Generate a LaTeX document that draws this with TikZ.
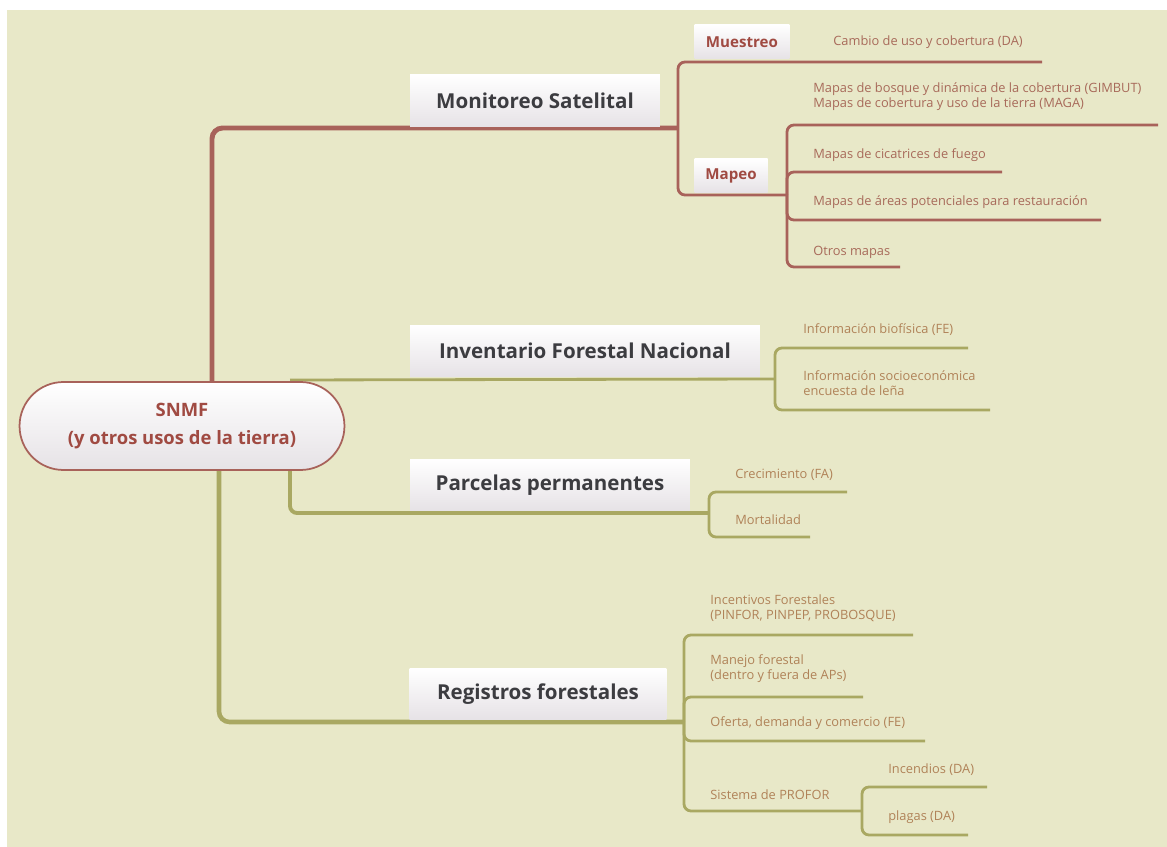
\documentclass[tikz,border=0pt]{standalone}
\usepackage{fontspec}
\setmainfont{Open Sans}
\usepackage{tikz}
\usetikzlibrary{positioning, calc}
\definecolor{paperbeige}{HTML}{E8E8C8}
\definecolor{branchred}{HTML}{A8625A}
\definecolor{branchgreen}{HTML}{A9A862}
\definecolor{leafred}{HTML}{A86A5A}
\definecolor{leafgreen}{HTML}{B08258}
\definecolor{topicgray}{HTML}{3C3C40}
\definecolor{rootred}{HTML}{A04A42}
\definecolor{boxshade}{HTML}{E6E2E6}
\pgfdeclarelayer{paper}
\pgfdeclarelayer{edges}
\pgfsetlayers{paper,edges,main}

\begin{document}
\begin{tikzpicture}[x=0.02cm, y=-0.02cm,
    topic/.style={rectangle, top color=white, bottom color=boxshade, minimum height=1.04cm, font=\fontsize{11.7}{14}\selectfont\bfseries, text=topicgray},
    subtopic/.style={rectangle, top color=white, bottom color=boxshade, minimum height=0.68cm, font=\fontsize{8.6}{10}\selectfont\bfseries, text=rootred},
    leaf/.style={anchor=west, align=left, inner sep=0pt, font=\fontsize{7.3}{8.6}\selectfont},
    redline/.style={draw=branchred, line width=1.6pt, rounded corners=4pt},
    greenline/.style={draw=branchgreen, line width=1.6pt, rounded corners=4pt},
    redtrunk/.style={redline, line width=2.8pt, rounded corners=6pt},
    greentrunk/.style={greenline, line width=2.6pt, rounded corners=6pt}]
    \useasboundingbox (0,0) rectangle (1167,847);
    \begin{pgfonlayer}{paper}
        \fill[white] (0,0) rectangle (1167,847);
        \fill[paperbeige] (7,10) rectangle (1167,847);
    \end{pgfonlayer}

    % Central topic
    \node[draw=branchred, line width=1pt, rounded corners=0.88cm, minimum width=6.5cm, minimum height=1.76cm, top color=white, bottom color=boxshade, align=center, text=rootred, font=\fontsize{10.5}{16}\selectfont\bfseries] (snmf) at (182,426) {SNMF\\(y otros usos de la tierra)};

    % Main topics
    \node[topic, minimum width=5cm] (monitoreo) at (535,101) {Monitoreo Satelital};
    \node[topic, minimum width=7cm] (inventario) at (585,351) {Inventario Forestal Nacional};
    \node[topic, minimum width=5.6cm] (parcelas) at (550,485) {Parcelas permanentes};
    \node[topic, minimum width=5.14cm] (registros) at (538,694) {Registros forestales};

    % Subtopics
    \node[subtopic, minimum width=1.9cm] (muestreo) at (742,42) {Muestreo};
    \node[subtopic, minimum width=1.46cm] (mapeo) at (731,176) {Mapeo};

    % Leaves, Monitoreo Satelital
    \node[leaf, text=leafred] (cambio) at (833,42) {Cambio de uso y cobertura (DA)};
    \node[leaf, text=leafred] (bosque) at (813,97) {Mapas de bosque y dinámica de la cobertura (GIMBUT)\\Mapas de cobertura y uso de la tierra (MAGA)};
    \node[leaf, text=leafred] (fuego) at (813,155) {Mapas de cicatrices de fuego};
    \node[leaf, text=leafred] (areas) at (813,202) {Mapas de áreas potenciales para restauración};
    \node[leaf, text=leafred] (otros) at (813,252) {Otros mapas};

    % Leaves, Inventario / Parcelas
    \node[leaf, text=leafgreen] (biofisica) at (803,330) {Información biofísica (FE)};
    \node[leaf, text=leafgreen] (socio) at (803,383) {Información socioeconómica\\encuesta de leña};
    \node[leaf, text=leafgreen] (crecimiento) at (735,475) {Crecimiento (FA)};
    \node[leaf, text=leafgreen] (mortalidad) at (735,520) {Mortalidad};

    % Leaves, Registros forestales
    \node[leaf, text=leafgreen] (incentivos) at (710,608) {Incentivos Forestales\\(PINFOR, PINPEP, PROBOSQUE)};
    \node[leaf, text=leafgreen] (manejo) at (710,669) {Manejo forestal\\(dentro y fuera de APs)};
    \node[leaf, text=leafgreen] (oferta) at (710,723) {Oferta, demanda y comercio (FE)};
    \node[leaf, text=leafgreen] (profor) at (710,795) {Sistema de PROFOR};
    \node[leaf, text=leafgreen] (incendios) at (888,770) {Incendios (DA)};
    \node[leaf, text=leafgreen] (plagas) at (888,817) {plagas (DA)};

    % Hubs and line ends
    \coordinate (red-root) at (212,384);
    \coordinate (sat-hub) at (678,128);
    \coordinate (mapeo-hub) at (787,195);
    \coordinate (inv-root) at (290,380);
    \coordinate (inv-hub) at (775,379);
    \coordinate (parc-root) at (290,468);
    \coordinate (parc-hub) at (709,513);
    \coordinate (reg-root) at (219,468);
    \coordinate (reg-hub) at (684,722);
    \coordinate (profor-hub) at (862,811);
    \coordinate (cambio-end) at (1042,62);
    \coordinate (bosque-end) at (1158,125);
    \coordinate (fuego-end) at (1002,172);
    \coordinate (areas-end) at (1101,220);
    \coordinate (otros-end) at (900,267);
    \coordinate (biofisica-end) at (968,348);
    \coordinate (socio-end) at (990,410);
    \coordinate (crecimiento-end) at (847,492);
    \coordinate (mortalidad-end) at (810,537);
    \coordinate (incentivos-end) at (913,635);
    \coordinate (manejo-end) at (863,697);
    \coordinate (oferta-end) at (925,741);
    \coordinate (incendios-end) at (987,787);
    \coordinate (plagas-end) at (968,835);

    \begin{pgfonlayer}{edges}
        % Monitoreo Satelital branch
        \draw[redtrunk] (red-root) |- (sat-hub);
        \draw[redline] (cambio-end) -| (sat-hub) |- (mapeo-hub);
        \draw[redline] (mapeo-hub) |- (bosque-end);
        \draw[redline] (mapeo-hub) |- (fuego-end);
        \draw[redline] (mapeo-hub) |- (areas-end);
        \draw[redline] (mapeo-hub) |- (otros-end);

        % Inventario branch
        \draw[greenline] (inv-root) -- (inv-hub);
        \draw[greenline] (biofisica-end) -| (inv-hub) |- (socio-end);

        % Parcelas branch
        \draw[greenline, line width=2.2pt] (parc-root) |- (parc-hub);
        \draw[greenline] (crecimiento-end) -| (parc-hub) |- (mortalidad-end);

        % Registros branch
        \draw[greentrunk] (reg-root) |- (reg-hub);
        \draw[greenline] (incentivos-end) -| (reg-hub) |- (profor-hub);
        \draw[greenline] (reg-hub) |- (manejo-end);
        \draw[greenline] (reg-hub) |- (oferta-end);
        \draw[greenline] (incendios-end) -| (profor-hub) |- (plagas-end);
    \end{pgfonlayer}
\end{tikzpicture}
\end{document}
